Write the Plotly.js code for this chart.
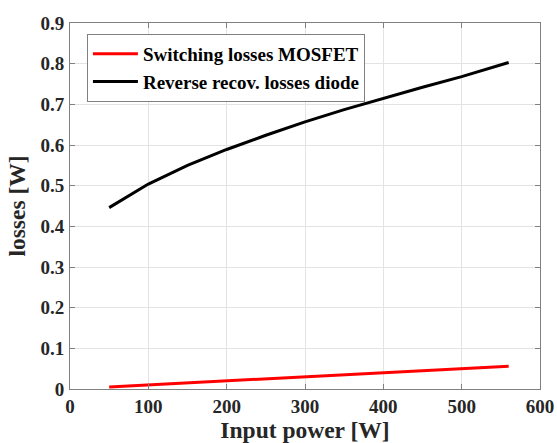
<!DOCTYPE html>
<html>
<head>
<meta charset="utf-8">
<script src="https://cdn.plot.ly/plotly-3.0.1.min.js"></script>
<style>html,body{margin:0;padding:0;background:#fff;}#chart{width:557px;height:443px;}</style>
</head>
<body>
<div id="chart"></div>
<script>
const inputPower = [50, 100, 150, 200, 250, 300, 350, 400, 450, 500, 560];
const switchingLosses = [0.005, 0.010, 0.015, 0.020, 0.025, 0.030, 0.035, 0.040, 0.045, 0.050, 0.056];
const reverseRecovLosses = [0.446, 0.504, 0.550, 0.589, 0.624, 0.657, 0.687, 0.715, 0.742, 0.768, 0.803];
const seriesNames = ["Switching losses MOSFET", "Reverse recov. losses diode"];
const xTicks = [0, 100, 200, 300, 400, 500, 600];
const yTicks = [0, 0.1, 0.2, 0.3, 0.4, 0.5, 0.6, 0.7, 0.8, 0.9];

const font = "Liberation Serif";
const traces = [
  {x: inputPower, y: switchingLosses, name: "<b>" + seriesNames[0] + "</b>", mode: "lines", line: {color: "#ff0000", width: 3}},
  {x: inputPower, y: reverseRecovLosses, name: "<b>" + seriesNames[1] + "</b>", mode: "lines", line: {color: "#000000", width: 3}}
];
function axisCommon() {
  return {
    showline: true, mirror: "ticks", linecolor: "#808080", linewidth: 1,
    ticks: "inside", ticklen: 5, tickcolor: "#808080",
    showgrid: true, gridcolor: "#e3e3e3", gridwidth: 1, zeroline: false,
    tickfont: {family: font, size: 19, color: "#262626", weight: "bold"}
  };
}
const layout = {
  width: 557, height: 443,
  margin: {l: 70, r: 17, t: 23, b: 54},
  paper_bgcolor: "#fff", plot_bgcolor: "#fff",
  showlegend: true,
  legend: {
    x: 0.036, y: 0.97, xanchor: "left", yanchor: "top",
    bgcolor: "#fff", bordercolor: "#808080", borderwidth: 1,
    font: {family: font, size: 19, color: "#000"},
    tracegroupgap: 0, itemwidth: 45
  },
  xaxis: Object.assign(axisCommon(), {
    range: [0, 600], tickvals: xTicks, ticktext: xTicks.map(v => String(v)),
    title: {text: "<b>Input power [W]</b>", font: {family: font, size: 23.5, color: "#262626"}, standoff: 4}
  }),
  yaxis: Object.assign(axisCommon(), {
    range: [0, 0.9], tickvals: yTicks, ticktext: yTicks.map(v => (v === 0 ? "0" : v.toFixed(1))),
    ticklabelstandoff: 1,
    title: {text: "<b>losses [W]</b>", font: {family: font, size: 23.5, color: "#262626"}, standoff: 8}
  })
};
Plotly.newPlot("chart", traces, layout, {staticPlot: true, displayModeBar: false});
</script>
</body>
</html>
